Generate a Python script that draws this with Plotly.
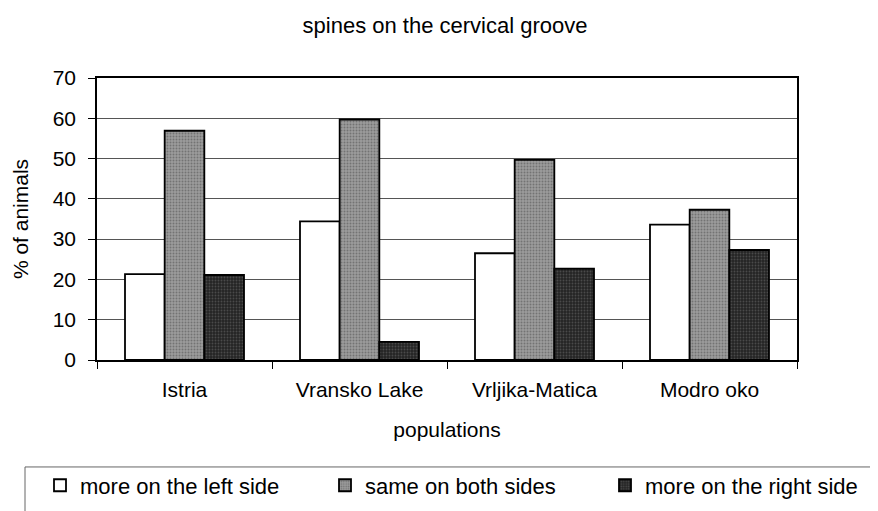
import plotly.graph_objects as go

categories = ["Istria", "Vransko Lake", "Vrljika-Matica", "Modro oko"]
left_side = [21.3, 34.4, 26.5, 33.6]
both_sides = [56.9, 59.7, 49.7, 37.3]
right_side = [21.1, 4.5, 22.7, 27.3]
series_names = ["more on the left side", "same on both sides", "more on the right side"]
y_ticks = [0, 10, 20, 30, 40, 50, 60, 70]

FONT = "Liberation Sans, Arial, sans-serif"

fig = go.Figure()
fig.add_trace(go.Bar(
    x=categories, y=left_side, name=series_names[0], legend="legend",
    marker=dict(color="white", line=dict(color="black", width=1.8)),
))
fig.add_trace(go.Bar(
    x=categories, y=both_sides, name=series_names[1], legend="legend2",
    marker=dict(color="#8e8e8e", line=dict(color="black", width=1.8),
                pattern=dict(shape=".", fgcolor="#4a4a4a", bgcolor="#9c9c9c", size=3, solidity=0.35)),
))
fig.add_trace(go.Bar(
    x=categories, y=right_side, name=series_names[2], legend="legend3",
    marker=dict(color="#2e2e2e", line=dict(color="black", width=1.8),
                pattern=dict(shape=".", fgcolor="#707070", bgcolor="#242424", size=3, solidity=0.3)),
))

def px_x(p):
    return (p - 89) / 700.0

def px_y(p):
    return (360 - p) / 290.0

leg_common = dict(orientation="h", xanchor="left", yanchor="middle", bgcolor="rgba(0,0,0,0)",
                  font=dict(family=FONT, size=22, color="black"), borderwidth=0,
                  itemclick=False, itemdoubleclick=False)

fig.update_layout(
    width=878, height=511,
    margin=dict(l=89, r=89, t=70, b=151),
    paper_bgcolor="white", plot_bgcolor="white",
    font=dict(family=FONT, size=21, color="black"),
    title=dict(text="spines on the cervical groove", x=437/878, xanchor="center",
               y=1 - 17/511, yanchor="middle", font=dict(family=FONT, size=22, color="black")),
    barmode="group", bargap=0.32, bargroupgap=0,
    showlegend=True,
    legend=dict(x=px_x(32), y=px_y(489), **leg_common),
    legend2=dict(x=px_x(317), y=px_y(489), **leg_common),
    legend3=dict(x=px_x(597), y=px_y(489), **leg_common),
    xaxis=dict(
        title=dict(text="populations", standoff=22, font=dict(family=FONT, size=21)),
        showline=True, linecolor="black", linewidth=1.5, mirror=True,
        ticks="outside", ticklen=7, tickcolor="black", tickson="boundaries",
        ticklabelstandoff=10, showgrid=False, automargin=False,
    ),
    yaxis=dict(
        title=dict(text="% of animals", standoff=18, font=dict(family=FONT, size=21)),
        range=[0, 70], tickvals=y_ticks,
        showline=True, linecolor="black", linewidth=1.5, mirror=True,
        ticks="outside", ticklen=7, tickcolor="black",
        ticklabelstandoff=8,
        showgrid=True, gridcolor="#555555", gridwidth=1, zeroline=False, automargin=False,
    ),
    shapes=[dict(type="rect", xref="paper", yref="paper",
                 x0=px_x(17), x1=px_x(900), y0=px_y(470), y1=px_y(560),
                 line=dict(color="#666666", width=1), fillcolor="rgba(0,0,0,0)", layer="below")],
)

fig.write_html("out.html")
